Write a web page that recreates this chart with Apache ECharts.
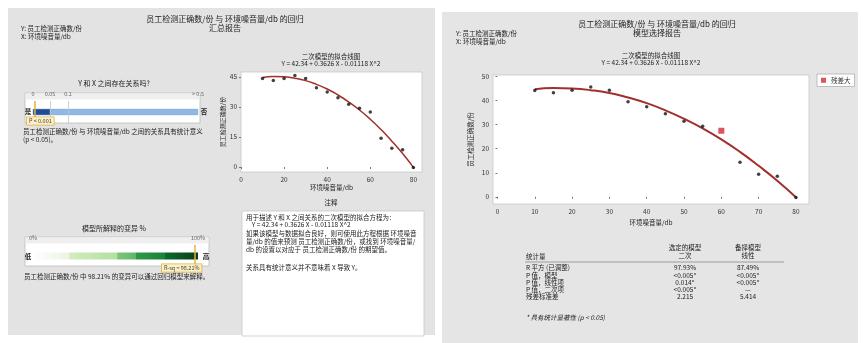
<!DOCTYPE html>
<html>
<head>
<meta charset="utf-8">
<script src="https://cdn.jsdelivr.net/npm/echarts@6/dist/echarts.min.js"></script>
<style>
  html, body { margin: 0; padding: 0; background: #fff; }
  #chart { width: 863px; height: 343px; filter: blur(0.3px); }
</style>
</head>
<body>
<div id="chart"></div>
<script>
// 数据：环境噪音量 vs 员工检测正确数
const noiseDb = [10, 15, 20, 25, 30, 35, 40, 45, 50, 55, 60, 65, 70, 75, 80];
const correctCount = [44.2, 43.3, 44.3, 45.7, 44.3, 39.6, 37.5, 34.6, 31.4, 29.4, 27.5, 14.4, 9.4, 8.6, -0.3];
const fittedCount = [44.8, 45.3, 45.1, 44.4, 43.2, 41.3, 39.0, 36.0, 32.5, 28.5, 23.9, 18.7, 12.9, 6.7, -0.2];
const largeResidualDb = [60];
const fitCoef = ['42.34', '0.3626', '0.01118'];

const leftXTicks = [0, 20, 40, 60, 80];
const leftYTicks = [0, 15, 30, 45];
const rightXTicks = [0, 10, 20, 30, 40, 50, 60, 70, 80];
const rightYTicks = [0, 10, 20, 30, 40, 50];

// p 值条
const pTickPos = [0, 10.3, 21.2, 100];
const pTickLabels = ['0', '0.05', '0.1', '> 0.5'];
const pBands = [10.3, 89.7];
const pMarkerPos = 1.2;
const pText = 'P < 0.001';

// R 平方条
const rsqTickPos = [0, 100];
const rsqTickLabels = ['0%', '100%'];
const rsqBands = [22, 29, 11, 18, 20];
const rsqValue = 98.21;

// 模型选择表
const statNames = ['R 平方 (已调整)', 'P 值，模型', 'P 值，线性项', 'P 值，二次项', '残差标准差'];
const quadStats = ['97.93%', '<0.005*', '0.014*', '<0.005*', '2.215'];
const linStats = ['87.49%', '<0.005*', '<0.005*', '—', '5.414'];

const FONT = '"Noto Sans CJK SC", "Noto Sans", sans-serif';
const equation = 'Y = ' + fitCoef[0] + ' + ' + fitCoef[1] + ' X - ' + fitCoef[2] + ' X^2';

const allPts = noiseDb.map((x, i) => [x, correctCount[i]]);
const fitPts = noiseDb.map((x, i) => [x, fittedCount[i]]);
const normalPts = allPts.filter(p => largeResidualDb.indexOf(p[0]) < 0);
const bigResPts = allPts.filter(p => largeResidualDb.indexOf(p[0]) >= 0);

const T = (x, y, text, o) => ({
  type: 'text', x: x, y: y, z: 100,
  style: Object.assign({
    text: text, fontSize: 7, fill: '#222', fontFamily: FONT,
    textAlign: 'left', textVerticalAlign: 'middle'
  }, o || {})
});
const R = (x, y, w, h, fill, stroke, z) => ({
  type: 'rect', z: z === undefined ? -5 : z,
  shape: { x: x, y: y, width: w, height: h },
  style: { fill: fill, stroke: stroke || null, lineWidth: stroke ? 0.8 : 0 }
});

const graphics = [
  R(8, 8, 427, 327, '#e3e3e3', null, -10),
  R(442, 12, 416, 331, '#e5e5e5', null, -10),
  // p 值框
  R(25, 93, 175, 30, '#fff', '#bdbdbd'),
  R(25.5, 93.5, 174, 6, '#efefef'),
  // R 平方框
  R(25, 237, 184, 29, '#fff', '#bdbdbd'),
  R(25.5, 237.5, 183, 6, '#efefef'),
  // 注释框
  R(242, 211, 182, 125, '#fff', '#c8c8c8'),

  // 左侧面板文字
  T(225, 19, '员工检测正确数/份 与 环境噪音量/db 的回归', { fontSize: 8, textAlign: 'center' }),
  T(225, 28, '汇总报告', { fontSize: 8, textAlign: 'center' }),
  T(21, 29, 'Y: 员工检测正确数/份', { fontSize: 6.5 }),
  T(21, 37, 'X: 环境噪音量/db', { fontSize: 6.5 }),
  T(114, 83, 'Y 和 X 之间存在关系吗?', { textAlign: 'center' }),
  T(28, 112, '是', { fontSize: 6.5, textAlign: 'center', fontWeight: 'bold' }),
  T(204, 112, '否', { fontSize: 6.5, textAlign: 'center', fontWeight: 'bold' }),
  T(27, 121, pText, { fontSize: 5.5, fill: '#444', backgroundColor: '#fbf0c6', borderColor: '#e0b040', borderWidth: 0.8, padding: [1, 2] }),
  {
    type: 'text', x: 23, y: 128, z: 100,
    style: { text: '员工检测正确数/份 与 环境噪音量/db 之间的关系具有统计意义 (p < 0.05)。', width: 186, overflow: 'break', lineHeight: 8, fontSize: 6.5, fill: '#222', fontFamily: FONT }
  },
  T(114, 228, '模型所解释的变异 %', { textAlign: 'center' }),
  T(28, 257, '低', { fontSize: 6.5, textAlign: 'center', fontWeight: 'bold' }),
  T(206, 257, '高', { fontSize: 6.5, textAlign: 'center', fontWeight: 'bold' }),
  T(162, 268, 'R-sq = ' + rsqValue + '%', { fontSize: 5.5, fill: '#444', backgroundColor: '#fbf0c6', borderColor: '#e0b040', borderWidth: 0.8, padding: [1, 2] }),
  T(24, 277, '员工检测正确数/份 中 ' + rsqValue + '% 的变异可以通过回归模型来解释。', { fontSize: 6.5 }),

  // 左侧图标题
  T(331, 57, '二次模型的拟合线图', { fontSize: 6.5, textAlign: 'center' }),
  T(331, 64, equation, { fontSize: 6.5, textAlign: 'center' }),
  T(331, 203, '注释', { fontSize: 6.5, textAlign: 'center' }),
  T(246, 218, '用于描述 Y 和 X 之间关系的二次模型的拟合方程为：', { fontSize: 6.5 }),
  T(246, 225, '    ' + equation, { fontSize: 6.5 }),
  {
    type: 'text', x: 246, y: 230, z: 100,
    style: { text: '如果该模型与数据拟合良好，则可使用此方程根据 环境噪音量/db 的值来预测 员工检测正确数/份，或找到 环境噪音量/db 的设置以对应于 员工检测正确数/份 的期望值。', width: 174, overflow: 'break', lineHeight: 7.8, fontSize: 6.5, fill: '#222', fontFamily: FONT }
  },
  T(246, 268, '关系具有统计意义并不意味着 X 导致 Y。', { fontSize: 6.5 }),

  // 右侧面板文字
  T(657, 24, '员工检测正确数/份 与 环境噪音量/db 的回归', { fontSize: 8, textAlign: 'center' }),
  T(657, 33, '模型选择报告', { fontSize: 8, textAlign: 'center' }),
  T(456, 34, 'Y: 员工检测正确数/份', { fontSize: 6.5 }),
  T(456, 42, 'X: 环境噪音量/db', { fontSize: 6.5 }),
  T(651, 56, '二次模型的拟合线图', { fontSize: 6.5, textAlign: 'center' }),
  T(651, 63, equation, { fontSize: 6.5, textAlign: 'center' }),

  // 表格
  T(685, 248, '选定的模型', { fontSize: 6.5, textAlign: 'center' }),
  T(685, 256, '二次', { fontSize: 6.5, textAlign: 'center' }),
  T(748, 248, '备择模型', { fontSize: 6.5, textAlign: 'center' }),
  T(748, 256, '线性', { fontSize: 6.5, textAlign: 'center' }),
  T(526, 257, '统计量', { fontSize: 6.5 }),
  { type: 'line', z: 100, shape: { x1: 525, y1: 262, x2: 784, y2: 262 }, style: { stroke: '#8a8a8a', lineWidth: 0.8 } },
  T(526, 318, '* 具有统计显著性 (p < 0.05)', { fontSize: 6.5, fontStyle: 'italic' })
];
statNames.forEach((s, i) => {
  const y = 268 + i * 7.2;
  graphics.push(T(526, y, s, { fontSize: 6.5 }));
  graphics.push(T(685, y, quadStats[i], { fontSize: 6.5, textAlign: 'center' }));
  graphics.push(T(748, y, linStats[i], { fontSize: 6.5, textAlign: 'center' }));
});

const rsqColors = [
  ['#ffffff', '#eaf5e0'],
  ['#d2ebc0', '#b4df9e'],
  ['#7dc77a', '#5fb865'],
  ['#2e9a4a', '#1c803a'],
  ['#0f6a2e', '#063d1a']
];
const grad = (a, b) => new echarts.graphic.LinearGradient(0, 0, 1, 0, [{ offset: 0, color: a }, { offset: 1, color: b }]);

const axisTxt = { fontSize: 6.5, color: '#333', fontFamily: FONT };
const hiddenCat = (grid) => ({ type: 'category', gridIndex: grid, data: ['v'], show: false });

const pSeries = pBands.map((v, i) => ({
  type: 'bar', xAxisIndex: 0, yAxisIndex: 0, stack: 'p', barWidth: 6, silent: true,
  data: [v],
  itemStyle: { color: i === 0 ? '#1c4d9a' : '#8fb8e4', borderColor: i === 0 ? '#163f80' : '#5e8ec6', borderWidth: 0.5 },
  markLine: i === 0 ? {
    symbol: 'none', silent: true, label: { show: false },
    data: [
      { xAxis: pTickPos[1], lineStyle: { color: '#c4c4c4', width: 0.8, type: 'solid' } },
      { xAxis: pTickPos[2], lineStyle: { color: '#c4c4c4', width: 0.8, type: 'solid' } },
      { xAxis: pMarkerPos, lineStyle: { color: '#e2b23a', width: 1.5, type: 'solid' } }
    ]
  } : undefined
}));

const rsqSeries = rsqBands.map((v, i) => ({
  type: 'bar', xAxisIndex: 1, yAxisIndex: 1, stack: 'r', barWidth: 7, silent: true,
  data: [v],
  itemStyle: { color: grad(rsqColors[i][0], rsqColors[i][1]), borderWidth: 0 },
  markLine: i === 0 ? {
    symbol: 'none', silent: true, label: { show: false },
    data: [{ xAxis: rsqValue, lineStyle: { color: '#e2b23a', width: 1.5, type: 'solid' } }]
  } : undefined
}));

const option = {
  animation: false,
  textStyle: { fontFamily: FONT },
  graphic: graphics,
  legend: {
    data: ['残差大'], left: 817, top: 74, orient: 'vertical',
    itemWidth: 5, itemHeight: 5, itemGap: 2, padding: [3, 4],
    backgroundColor: '#fff', borderColor: '#b0b0b0', borderWidth: 0.8,
    textStyle: { fontSize: 6.5, color: '#333' }
  },
  grid: [
    { left: 33, top: 101, width: 165, height: 22 },
    { left: 33, top: 245, width: 165, height: 22 },
    { left: 241, top: 72, width: 181, height: 100, show: true, backgroundColor: '#fff', borderColor: '#c8c8c8', borderWidth: 0.8 },
    { left: 493, top: 75, width: 316, height: 129, show: true, backgroundColor: '#fff', borderColor: '#c8c8c8', borderWidth: 0.8 }
  ],
  xAxis: [
    {
      type: 'value', gridIndex: 0, min: 0, max: 100, position: 'top',
      axisLine: { show: false }, axisTick: { show: false }, splitLine: { show: false },
      axisLabel: Object.assign({}, axisTxt, { fontSize: 5.5, color: '#666', margin: 4, customValues: pTickPos,
        formatter: v => pTickLabels[pTickPos.indexOf(v)] || '' })
    },
    {
      type: 'value', gridIndex: 1, min: 0, max: 100, position: 'top',
      axisLine: { show: false }, axisTick: { show: false }, splitLine: { show: false },
      axisLabel: Object.assign({}, axisTxt, { fontSize: 5.5, color: '#666', margin: 4, customValues: rsqTickPos,
        formatter: v => rsqTickLabels[rsqTickPos.indexOf(v)] || '' })
    },
    {
      type: 'value', gridIndex: 2, min: 0, max: 84,
      name: '环境噪音量/db', nameLocation: 'middle', nameGap: 12,
      nameTextStyle: { fontSize: 6.5, color: '#222' },
      axisLine: { show: false }, splitLine: { show: false },
      axisTick: { show: true, length: 2, lineStyle: { color: '#777' }, customValues: leftXTicks },
      axisLabel: Object.assign({}, axisTxt, { margin: 4, customValues: leftXTicks })
    },
    {
      type: 'value', gridIndex: 3, min: -1.2, max: 83.5,
      name: '环境噪音量/db', nameLocation: 'middle', nameGap: 15,
      nameTextStyle: { fontSize: 6.5, color: '#222' },
      axisLine: { show: false }, splitLine: { show: false },
      axisTick: { show: true, length: 2, lineStyle: { color: '#777' }, customValues: rightXTicks },
      axisLabel: Object.assign({}, axisTxt, { margin: 4, customValues: rightXTicks })
    }
  ],
  yAxis: [
    hiddenCat(0),
    hiddenCat(1),
    {
      type: 'value', gridIndex: 2, min: -2.5, max: 47.5,
      name: '员工检测正确数/份', nameLocation: 'middle', nameGap: 15, nameRotate: 90,
      nameTextStyle: { fontSize: 6, color: '#222' },
      axisLine: { show: false }, splitLine: { show: false },
      axisTick: { show: true, length: 2, lineStyle: { color: '#777' }, customValues: leftYTicks },
      axisLabel: Object.assign({}, axisTxt, { margin: 4, customValues: leftYTicks })
    },
    {
      type: 'value', gridIndex: 3, min: -3, max: 50.7,
      name: '员工检测正确数/份', nameLocation: 'middle', nameGap: 19, nameRotate: 90,
      nameTextStyle: { fontSize: 6.5, color: '#222' },
      axisLine: { show: false }, splitLine: { show: false },
      axisTick: { show: true, length: 2, lineStyle: { color: '#777' }, customValues: rightYTicks },
      axisLabel: Object.assign({}, axisTxt, { margin: 4, customValues: rightYTicks })
    }
  ],
  series: [].concat(pSeries, rsqSeries, [
    {
      type: 'line', xAxisIndex: 2, yAxisIndex: 2, data: fitPts, smooth: true,
      showSymbol: false, lineStyle: { color: '#a1302c', width: 1.5 }, z: 3
    },
    {
      type: 'scatter', xAxisIndex: 2, yAxisIndex: 2, data: allPts,
      symbolSize: 3.5, itemStyle: { color: '#111' }, z: 4
    },
    {
      type: 'line', xAxisIndex: 3, yAxisIndex: 3, data: fitPts, smooth: true,
      showSymbol: false, lineStyle: { color: '#a1302c', width: 2 }, z: 3
    },
    {
      type: 'scatter', xAxisIndex: 3, yAxisIndex: 3, data: normalPts,
      symbolSize: 3.5, itemStyle: { color: '#111' }, z: 4
    },
    {
      name: '残差大', type: 'scatter', xAxisIndex: 3, yAxisIndex: 3, data: bigResPts,
      symbol: 'rect', symbolSize: 6, itemStyle: { color: '#d3283a' }, z: 5
    }
  ])
};

const chart = echarts.init(document.getElementById('chart'), null, { renderer: 'canvas' });
chart.setOption(option);
</script>
</body>
</html>
